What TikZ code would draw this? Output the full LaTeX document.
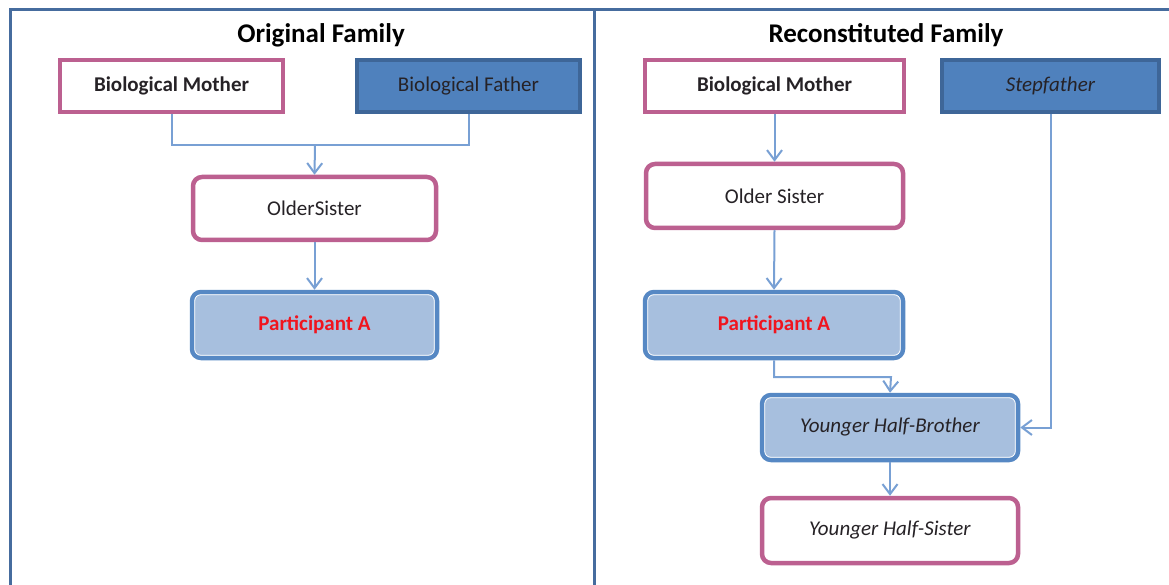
\documentclass[tikz,border=0pt]{standalone}
\usepackage{fontspec}
\setmainfont{Carlito}
\usetikzlibrary{arrows.meta,positioning}
\definecolor{frameblue}{RGB}{70,108,158}
\definecolor{pinkb}{RGB}{188,96,144}
\definecolor{darkblue}{RGB}{62,102,152}
\definecolor{midblue}{RGB}{79,129,189}
\definecolor{paborder}{RGB}{86,136,196}
\definecolor{pafill}{RGB}{167,191,222}
\definecolor{linkblue}{RGB}{120,160,212}
\definecolor{txt}{RGB}{38,34,38}
\definecolor{pared}{RGB}{240,20,30}
\tikzset{
  txtfont/.style={font=\fontsize{21}{24}\selectfont, text=txt},
  pinksq/.style={txtfont, draw=pinkb, line width=4.5pt, fill=white, inner sep=0pt},
  bluesq/.style={txtfont, draw=darkblue, line width=4.5pt, fill=midblue, inner sep=0pt},
  pinkround/.style={txtfont, draw=pinkb, line width=4.5pt, fill=white, rounded corners=9pt, inner sep=0pt},
  paround/.style={txtfont, draw=paborder, line width=4.5pt, fill=pafill, rounded corners=9pt, inner sep=0pt},
  innerline/.style={draw=white, line width=0.8pt, rounded corners=6pt},
  link/.style={draw=linkblue, line width=2pt},
  linkarrow/.style={link, -{Straight Barb[length=10pt,width=15pt,line width=2pt]}},
  frame/.style={draw=frameblue, line width=3pt},
  title/.style={font=\fontsize{27}{30}\selectfont\bfseries, text=black}
}
\begin{document}
\begin{tikzpicture}[x=1pt,y=-1pt]
\useasboundingbox (0,0) rectangle (1169,585);
\fill[white] (0,0) rectangle (1169,585);
% frames
\draw[frame] (10,600) -- (10,10) -- (594,10) -- (594,600);
\draw[frame] (594,10) -- (1180,10);
% titles
\node[title] (t1) at (321,35) {Original Family};
\node[title] (t2) at (886,35) {Reconstituted Family};
% left panel
\node[pinksq, minimum width=223, minimum height=52] (lm) at (171.5,86) {\textbf{Biological Mother}};
\node[bluesq, minimum width=223, minimum height=52] (lf) at (468.5,86) {Biological Father};
\node[pinkround, minimum width=243, minimum height=63] (ls) at (314.5,208.5) {OlderSister};
\node[paround, minimum width=245, minimum height=66] (lp) at (314.5,325) {\textcolor{pared}{\textbf{Participant A}}};
\draw[innerline] ([xshift=5pt,yshift=-5pt]lp.north west) rectangle ([xshift=-5pt,yshift=5pt]lp.south east);
\coordinate (lj) at (315,145);
\draw[link] (lm.south) |- (lj);
\draw[link] (lf.south) |- (lj);
\draw[linkarrow] (lj) -- (ls.north);
\draw[linkarrow] (ls.south) -- (lp.north);
% right panel
\node[pinksq, minimum width=259, minimum height=52] (rm) at (774.5,86) {\textbf{Biological Mother}};
\node[bluesq, minimum width=217, minimum height=52] (rf) at (1050.5,86) {\textit{Stepfather}};
\node[pinkround, minimum width=257, minimum height=64] (rs) at (774.5,196) {Older Sister};
\node[paround, minimum width=258, minimum height=66] (rp) at (774,325) {\textcolor{pared}{\textbf{Participant A}}};
\draw[innerline] ([xshift=5pt,yshift=-5pt]rp.north west) rectangle ([xshift=-5pt,yshift=5pt]rp.south east);
\node[paround, minimum width=256, minimum height=65] (rb) at (890,427.5) {\textit{Younger Half-Brother}};
\draw[innerline] ([xshift=5pt,yshift=-5pt]rb.north west) rectangle ([xshift=-5pt,yshift=5pt]rb.south east);
\node[pinkround, minimum width=256, minimum height=65] (rh) at (890,530.5) {\textit{Younger Half-Sister}};
\draw[linkarrow] (rm.south) -- (rs.north);
\draw[linkarrow] (rs.south) -- (rp.north);
\coordinate (rj) at (891,377);
\draw[linkarrow] (rp.south) |- (rj) -- (rb.north);
\draw[linkarrow] (rf.south) |- (rb.east);
\draw[linkarrow] (rb.south) -- (rh.north);
\end{tikzpicture}
\end{document}
